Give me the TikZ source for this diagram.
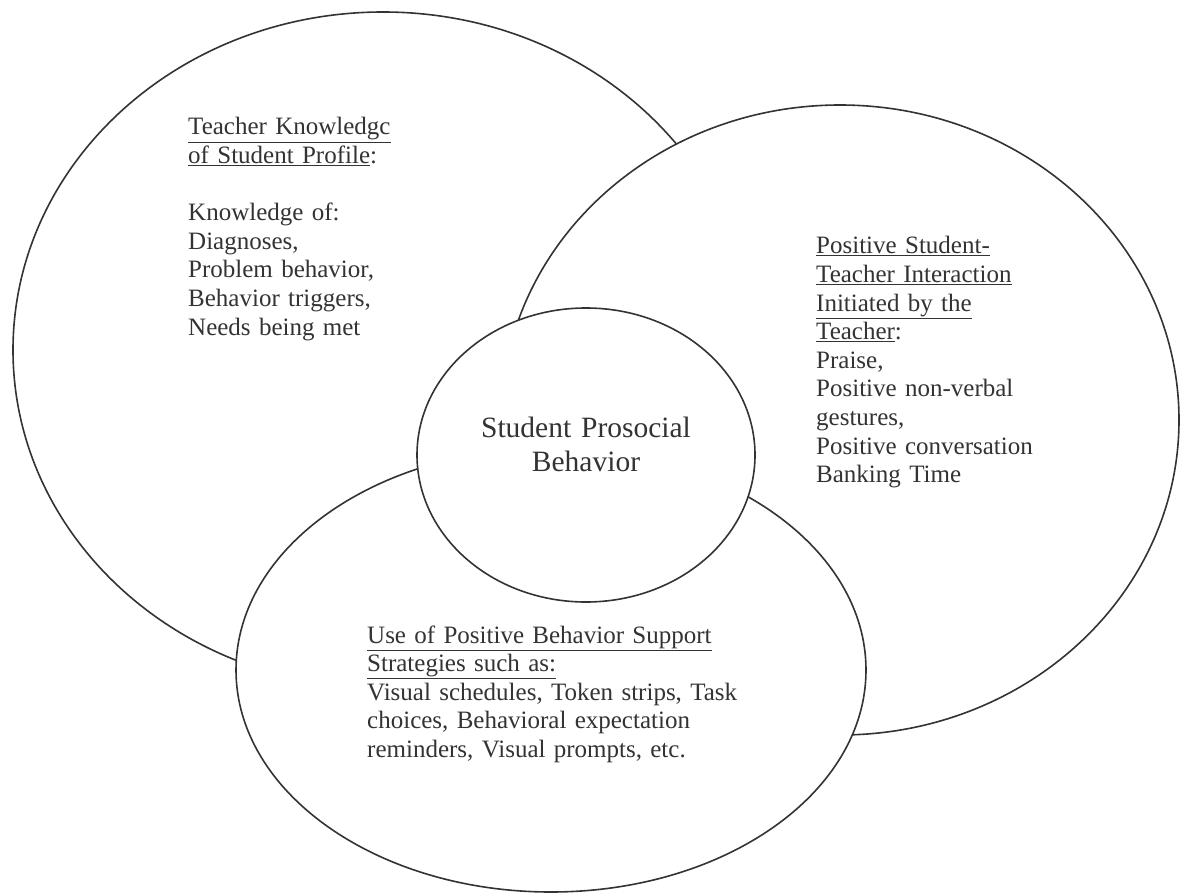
\documentclass[tikz,border=0pt]{standalone}
\usepackage{fontspec}
\setmainfont{Liberation Serif}
\usetikzlibrary{shapes.geometric}
\definecolor{ink}{HTML}{333333}
\begin{document}
\begin{tikzpicture}[x=1pt,y=-1pt,
  region/.style={ellipse, draw=ink, line width=1.6pt, fill=white, inner sep=0pt, outer sep=0pt},
  blurb/.style={anchor=base west, inner sep=0pt, align=left, text=ink, text width=#1,
    font=\fontsize{25}{28.6}\selectfont},
  core/.style={anchor=base, inner sep=0pt, align=center, text=ink, text width=300pt,
    font=\fontsize{29.5}{34}\selectfont},
]
\useasboundingbox (0,0) rectangle (1180,893);
\fill[white] (0,0) rectangle (1180,893);

% the four regions, back to front
\node[region, minimum width=740pt, minimum height=676pt] (know) at (383,350) {};
\node[region, minimum width=678pt, minimum height=630pt] (inter) at (840,420) {};
\node[region, minimum width=630pt, minimum height=444pt] (pbs) at (551,670) {};
\node[region, minimum width=338pt, minimum height=294pt] (goal) at (586,455) {};

% texts
\node[blurb=300pt] (knowtext) at (188,135)
  {\underline{Teacher Knowledgc}\\
   \underline{of Student Profile}:\\[28.6pt]
   Knowledge of:\\
   Diagnoses,\\
   Problem behavior,\\
   Behavior triggers,\\
   Needs being met};

\node[blurb=300pt] (intertext) at (816,254)
  {\underline{Positive Student-}\\
   \underline{Teacher Interaction}\\
   \underline{Initiated by the}\\
   \underline{Teacher}:\\
   Praise,\\
   Positive non-verbal\\
   gestures,\\
   Positive conversation\\
   Banking Time};

\node[blurb=420pt] (pbstext) at (367,643)
  {\underline{Use of Positive Behavior Support}\\
   \underline{Strategies such as:}\\
   Visual schedules, Token strips, Task\\
   choices, Behavioral expectation\\
   reminders, Visual prompts, etc.};

\node[core] (goaltext) at (586,437) {Student Prosocial\\Behavior};
\end{tikzpicture}
\end{document}
